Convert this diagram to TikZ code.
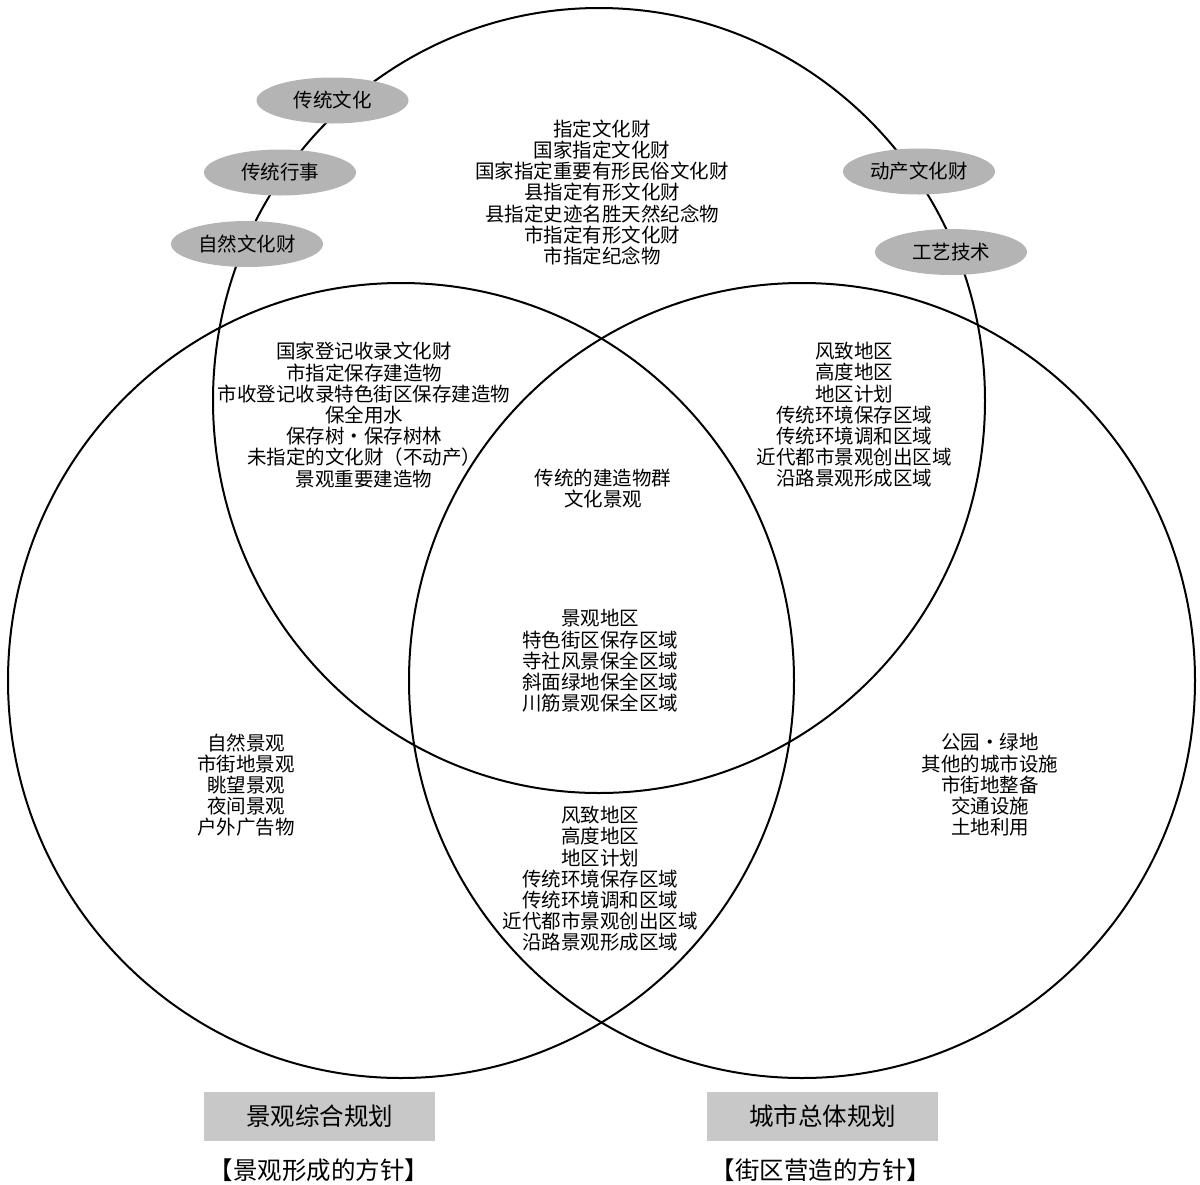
\documentclass[tikz,border=0pt]{standalone}
\usepackage{fontspec}
\setmainfont{Noto Sans CJK SC}
\usetikzlibrary{shapes.geometric}
\definecolor{tagfill}{RGB}{180,180,180}
\definecolor{planfill}{RGB}{200,200,200}
\begin{document}
\begin{tikzpicture}[x=1pt,y=-1pt,
  ring/.style={draw=black, line width=2pt},
  txt/.style={align=center, inner sep=0pt, font=\fontsize{19.5}{21.2}\selectfont},
  tag/.style={ellipse, fill=tagfill, minimum width=152pt, minimum height=46pt, inner sep=0pt, font=\fontsize{19.5}{21}\selectfont},
  plan/.style={rectangle, fill=planfill, minimum width=231pt, minimum height=49pt, inner sep=0pt, font=\fontsize{24.5}{26}\selectfont},
  policy/.style={inner sep=0pt, font=\fontsize{24.5}{26}\selectfont}]
\useasboundingbox (0,0) rectangle (1200,1184);
% circles
\draw[ring] (599,400.5) ellipse [x radius=386, y radius=392.5];
\draw[ring] (401,680.5) ellipse [x radius=393, y radius=397.5];
\draw[ring] (802,680.5) ellipse [x radius=393, y radius=397.5];
% tags
\node[tag] (t1) at (332.5,100.5) {传统文化};
\node[tag] (t2) at (280,172.5) {传统行事};
\node[tag] (t3) at (247,244) {自然文化财};
\node[tag] (t4) at (919,171.5) {动产文化财};
\node[tag] (t5) at (951,252) {工艺技术};
% texts
\node[txt] (top) at (602,192.5) {指定文化财\\国家指定文化财\\国家指定重要有形民俗文化财\\县指定有形文化财\\县指定史迹名胜天然纪念物\\市指定有形文化财\\市指定纪念物};
\node[txt] (tl) at (364,415) {国家登记收录文化财\\市指定保存建造物\\市收登记收录特色街区保存建造物\\保全用水\\保存树・保存树林\\未指定的文化财（不动产）\\景观重要建造物};
\node[txt] (tr) at (854,415) {风致地区\\高度地区\\地区计划\\传统环境保存区域\\传统环境调和区域\\近代都市景观创出区域\\沿路景观形成区域};
\node[txt] (c1) at (603,488.5) {传统的建造物群\\文化景观};
\node[txt] (c2) at (600,661) {景观地区\\特色街区保存区域\\寺社风景保全区域\\斜面绿地保全区域\\川筋景观保全区域};
\node[txt] (lf) at (246,785) {自然景观\\市街地景观\\眺望景观\\夜间景观\\户外广告物};
\node[txt] (rt) at (990,785) {公园・绿地\\其他的城市设施\\市街地整备\\交通设施\\土地利用};
\node[txt] (bt) at (600,879) {风致地区\\高度地区\\地区计划\\传统环境保存区域\\传统环境调和区域\\近代都市景观创出区域\\沿路景观形成区域};
% plans
\node[plan] (p1) at (319.5,1116.5) {景观综合规划};
\node[plan] (p2) at (822.5,1116.5) {城市总体规划};
\node[policy] (q1) at (319,1170) {【景观形成的方针】};
\node[policy] (q2) at (821,1170) {【街区营造的方针】};
\end{tikzpicture}
\end{document}
